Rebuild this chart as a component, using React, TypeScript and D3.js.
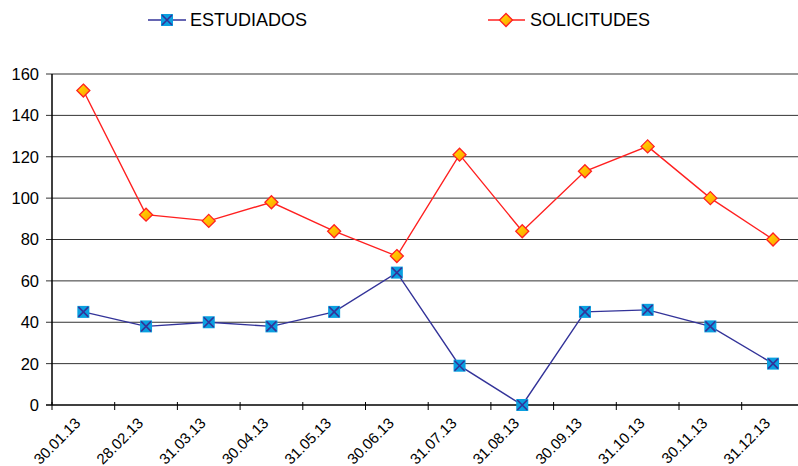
import React from "react";
import * as d3 from "d3";

const categories = ["30.01.13","28.02.13","31.03.13","30.04.13","31.05.13","30.06.13","31.07.13","31.08.13","30.09.13","31.10.13","30.11.13","31.12.13"];
const estudiados = [45, 38, 40, 38, 45, 64, 19, 0, 45, 46, 38, 20];
const solicitudes = [152, 92, 89, 98, 84, 72, 121, 84, 113, 125, 100, 80];
const yTicks = [0, 20, 40, 60, 80, 100, 120, 140, 160];

const W = 798, H = 466;
const left = 52, right = 804.4, top = 74, bottom = 405;

export default function App() {
  const x = d3.scaleBand<string>().domain(categories).range([left, right]);
  const y = d3.scaleLinear().domain([0, 160]).range([bottom, top]);
  const cx = (c: string) => (x(c) as number) + x.bandwidth() / 2;
  const line = d3.line<number>().x((_, i) => cx(categories[i])).y((d) => y(d));
  const font = "Liberation Sans, Arial, sans-serif";
  const sq = 6;
  const dm = 6.5;
  const square = (px: number, py: number, k: number) => (
    <g key={k}>
      <rect x={px - sq} y={py - sq} width={sq * 2} height={sq * 2} fill="#0aa0e0" />
      <path d={`M${px - 5},${py - 5}L${px + 5},${py + 5}M${px + 5},${py - 5}L${px - 5},${py + 5}`} stroke="#333399" strokeWidth={1.6} />
    </g>
  );
  const diamond = (px: number, py: number, k: number) => (
    <path key={k} d={`M${px},${py - dm}L${px + dm},${py}L${px},${py + dm}L${px - dm},${py}Z`} fill="url(#dg)" stroke="#ff2020" strokeWidth={1.3} />
  );
  return (
    <svg width={W} height={H} style={{ position: "absolute", left: 0, top: 0, background: "#fff" }} fontFamily={font}>
      <defs>
        <linearGradient id="dg" x1="0" y1="0" x2="1" y2="1">
          <stop offset="0" stopColor="#ffe000" />
          <stop offset="1" stopColor="#ff9a00" />
        </linearGradient>
      </defs>
      {yTicks.map((t) => (
        <g key={t}>
          <line x1={left - 6} x2={W} y1={y(t)} y2={y(t)} stroke={t === 0 ? "#000" : "#333"} strokeWidth={t === 0 ? 1.5 : 1} />
          <text x={left - 13} y={y(t)} dy="0.36em" textAnchor="end" fontSize={16.5} fill="#000">{t}</text>
        </g>
      ))}
      <line x1={left} x2={left} y1={top} y2={bottom} stroke="#000" strokeWidth={1.5} />
      {categories.map((c) => (
        <line key={c} x1={x(c) as number} x2={x(c) as number} y1={bottom - 3} y2={bottom + 5} stroke="#000" strokeWidth={1} />
      ))}
      {categories.map((c) => (
        <text key={c} transform={`translate(${cx(c) - 2},${bottom + 19}) rotate(-45)`} textAnchor="end" fontSize={15} fill="#000">{c}</text>
      ))}
      <path d={line(solicitudes) || ""} fill="none" stroke="#ff2020" strokeWidth={1.4} />
      <path d={line(estudiados) || ""} fill="none" stroke="#333399" strokeWidth={1.4} />
      {solicitudes.map((v, i) => diamond(cx(categories[i]), y(v), i))}
      {estudiados.map((v, i) => square(cx(categories[i]), y(v), i))}
      <line x1={148} x2={186} y1={20} y2={20} stroke="#333399" strokeWidth={1.4} />
      {square(167, 20, 100)}
      <text x={190} y={20} dy="0.36em" fontSize={18} fill="#000">ESTUDIADOS</text>
      <line x1={488} x2={525} y1={20} y2={20} stroke="#ff2020" strokeWidth={1.4} />
      {diamond(506, 20, 101)}
      <text x={530} y={20} dy="0.36em" fontSize={18} fill="#000">SOLICITUDES</text>
    </svg>
  );
}
